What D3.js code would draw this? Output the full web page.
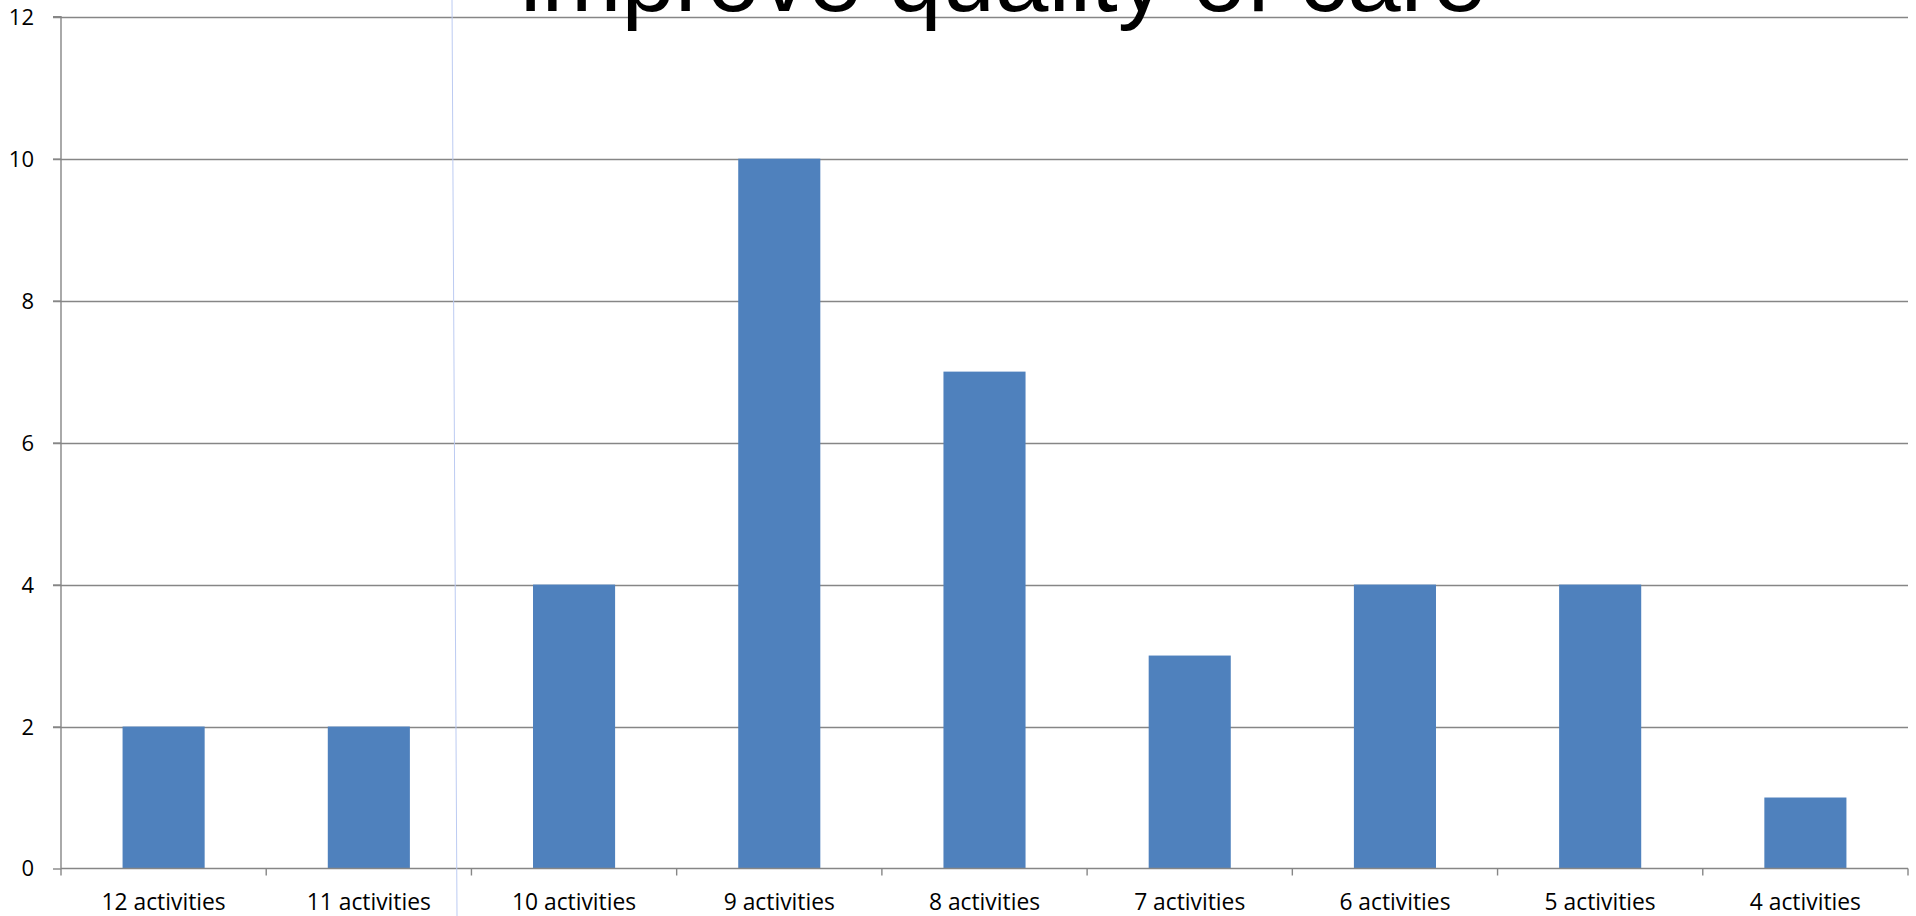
<!DOCTYPE html>
<html>
<head>
<meta charset="utf-8">
<script src="https://cdn.jsdelivr.net/npm/d3@7"></script>
<style>
  html, body { margin: 0; padding: 0; background: #ffffff; overflow: hidden; }
  svg { display: block; }
</style>
</head>
<body>
<svg id="chart" width="1916" height="916"></svg>
<script>
const titleText = "improve quality of care";
const categories = ["12 activities", "11 activities", "10 activities", "9 activities", "8 activities", "7 activities", "6 activities", "5 activities", "4 activities"];
const counts = [2, 2, 4, 10, 7, 3, 4, 4, 1];
const yTicks = [0, 2, 4, 6, 8, 10, 12];

const svg = d3.select("#chart");
const plotLeft = 61, plotRight = 1908, plotTop = 16.7, plotBottom = 868.5;
const gridColor = "#868686";

const x = d3.scaleBand().domain(categories).range([plotLeft, plotRight]).paddingInner(0).paddingOuter(0);
const y = d3.scaleLinear().domain([0, 12]).range([plotBottom, plotTop]);

// gridlines
svg.append("g").selectAll("line").data(yTicks.filter(d => d > 0)).join("line")
  .attr("x1", plotLeft - 8).attr("x2", plotRight)
  .attr("y1", d => Math.round(y(d)) + 0.5).attr("y2", d => Math.round(y(d)) + 0.5)
  .attr("stroke", gridColor).attr("stroke-width", 1.4);

// bars
const barW = x.bandwidth() * 0.4;
svg.append("g").selectAll("rect").data(counts).join("rect")
  .attr("x", (d, i) => x(categories[i]) + (x.bandwidth() - barW) / 2)
  .attr("width", barW)
  .attr("y", d => y(d))
  .attr("height", d => y(0) - y(d))
  .attr("fill", "#4F81BD");

// y axis
const yAxis = d3.axisLeft(y).tickValues(yTicks).tickSize(8).tickPadding(19).tickFormat(d3.format("d"));
const gy = svg.append("g").attr("transform", `translate(${plotLeft},0)`).call(yAxis);
gy.select(".domain").attr("stroke", gridColor).attr("stroke-width", 1.4).attr("d", `M-8,${plotTop}H0V${plotBottom}`);
gy.selectAll(".tick line").attr("stroke", gridColor).attr("stroke-width", 1.4);
gy.selectAll(".tick text").attr("font-family", "'Open Sans', sans-serif").attr("font-size", 22).attr("fill", "#000").attr("dy", "0.34em");

// x axis
const xAxis = d3.axisBottom(x).tickSize(0).tickPadding(28);
const gx = svg.append("g").attr("transform", `translate(0,${plotBottom})`).call(xAxis);
gx.select(".domain").attr("stroke", gridColor).attr("stroke-width", 1.4).attr("d", `M${plotLeft},0H${plotRight}`);
gx.selectAll(".tick text").attr("font-family", "'Open Sans', sans-serif").attr("font-size", 22.8)
  .attr("fill", "#000").attr("y", 41.3).attr("dy", 0);
const bounds = categories.map(c => x(c)).concat([plotRight]);
gx.append("g").selectAll("line").data(bounds).join("line")
  .attr("x1", d => d).attr("x2", d => d).attr("y1", 0).attr("y2", 7)
  .attr("stroke", gridColor).attr("stroke-width", 1.4);

// title (mostly cut off at top)
svg.append("text").attr("x", 1003).attr("y", 11)
  .attr("text-anchor", "middle")
  .attr("font-family", "'Liberation Sans', Arial, sans-serif")
  .attr("font-size", 96).attr("fill", "#000").text(titleText);

// thin light blue stray line
svg.append("line").attr("x1", 452).attr("y1", 0).attr("x2", 457).attr("y2", 916)
  .attr("stroke", "#bccbf2").attr("stroke-width", 1);
</script>
</body>
</html>
